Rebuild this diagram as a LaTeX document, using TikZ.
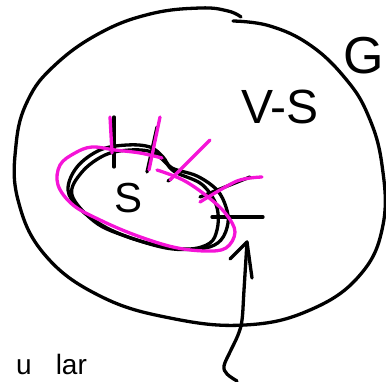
\documentclass[tikz,border=0pt]{standalone}
\usepackage{fontspec}
\setmainfont{Liberation Sans}
\definecolor{hl}{RGB}{245,20,215}
\begin{document}
\begin{tikzpicture}[x=1pt,y=-1pt,
  pen/.style={line width=3.3pt, line cap=round, line join=round},
  ink/.style={pen, draw=black},
  hi/.style={pen, draw=hl},
  lbl/.style={inner sep=0pt, text=black}]
\useasboundingbox (0,0) rectangle (386,381);
\clip (0,0) rectangle (386,381);
% outer region G
\draw[ink] plot[smooth, tension=0.7] coordinates {(233,21) (270,26) (310,45) (345,78) (368,115) (382,165) (383,225) (360,275) (310,310) (245,325) (170,318) (100,296) (45,255) (18,200) (16,145) (28,100) (55,65) (100,33) (150,14) (200,8) (228,11) (241,17)};
% inner set S (two black strokes)
\draw[ink] plot[smooth cycle, tension=0.6] coordinates {(68,190) (77,167) (100,150) (127,145) (150,147) (163,157) (172,168) (197,176) (217,190) (226,207) (228,223) (221,240) (205,248) (173,249) (140,241) (107,228) (80,209)};
\draw[ink] plot[smooth cycle, tension=0.6] coordinates {(72,195) (82,172) (105,155) (130,150) (152,152) (165,162) (175,172) (200,183) (213,198) (218,213) (217,230) (210,243) (190,249) (160,246) (125,236) (95,222)};
% black edge ticks
\draw[ink] (114,117) -- (114,167);
\draw[ink] (157,127) -- (147,172);
\draw[ink] (250,177) -- (200,197);
\draw[ink] (212,217) -- (263,217);
\draw[ink] (168,181) -- (171,179);
% magenta loop and ticks
\draw[hi] plot[smooth, tension=0.6] coordinates {(157,170) (183,180) (208,197) (226,214) (235,232) (226,248) (205,251) (173,247) (135,235) (100,220) (73,205) (58,185) (60,165) (75,153) (92,147) (115,150) (140,153) (162,158)};
\draw[hi] (110,117) -- (112,153);
\draw[hi] (160,117) -- (149,170);
\draw[hi] (210,140) -- (170,180);
\draw[hi] plot[smooth] coordinates {(262,177) (237,181) (200,202)};
% labels
\node[lbl, font=\fontsize{42}{42}\selectfont] (s) at (129,198) {S};
\node[lbl, font=\fontsize{48}{48}\selectfont] (vs) at (280,107) {V-S};
\node[lbl, font=\fontsize{52}{52}\selectfont] (g) at (364,56) {G};
\node[lbl, anchor=base west, text depth=0pt, font=\fontsize{28}{28}\selectfont] (note) at (16,374) {u\hspace{24pt}lar};
% arrow
\coordinate (tip) at (247,242);
\coordinate (tail) at (237,381);
\draw[ink] plot[smooth, tension=0.6] coordinates {(tail) (227,374) (224,366) (230,352) (238,335) (242,320) (244,290) (tip)};
\draw[ink] (230,259) -- (tip) -- (252,278);
\end{tikzpicture}
\end{document}
